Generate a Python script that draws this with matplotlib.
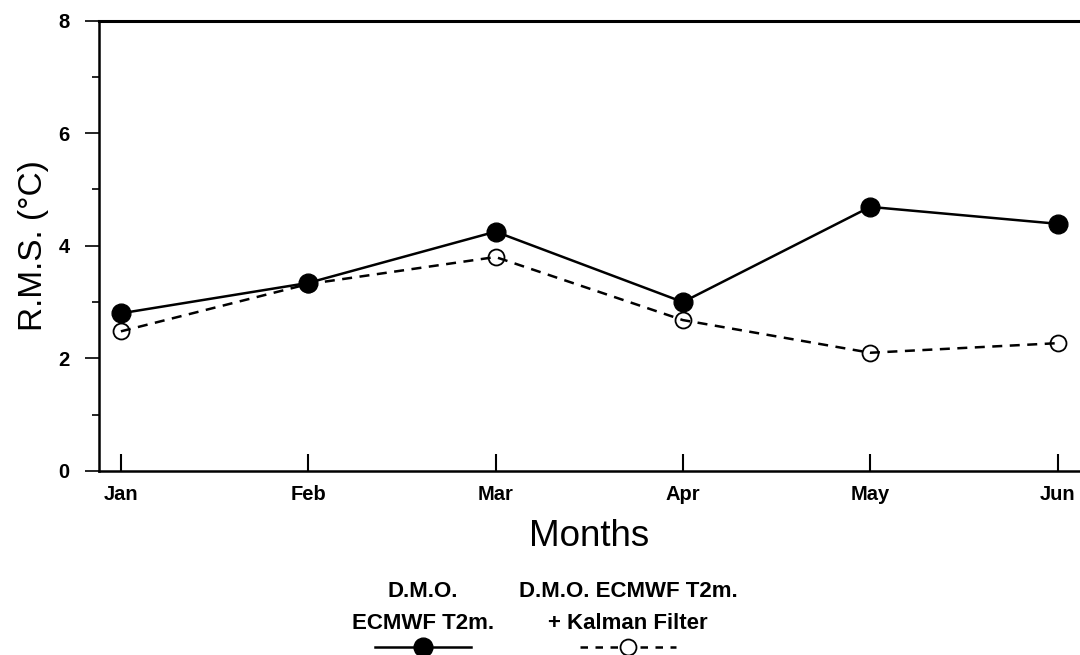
import matplotlib
matplotlib.use("Agg")
import matplotlib.pyplot as plt
from matplotlib.lines import Line2D
from matplotlib.ticker import MultipleLocator

# Monthly RMS error of 2 m temperature forecasts
months = ["Jan", "Feb", "Mar", "Apr", "May", "Jun"]
rms_dmo = [2.80, 3.34, 4.25, 3.00, 4.69, 4.39]
rms_kalman = [2.48, 3.32, 3.80, 2.68, 2.10, 2.27]

label_dmo = "D.M.O.\nECMWF T2m."
label_kalman = "D.M.O. ECMWF T2m.\n+ Kalman Filter"

plt.rcParams["font.family"] = ["Liberation Sans", "DejaVu Sans"]

W, H, DPI = 1080, 655, 100
fig = plt.figure(figsize=(W / DPI, H / DPI), dpi=DPI)
ax = fig.add_axes([99 / W, 184 / H, 1 - 99 / W, (471 - 20.5) / H])

x = list(range(len(months)))
solid_style = dict(color="black", lw=1.8, marker="o", markersize=13.5,
                   markerfacecolor="black", markeredgecolor="black")
dashed_style = dict(color="black", lw=1.8, ls=(0, (4, 3)), marker="o",
                    markersize=11.5, markerfacecolor="none",
                    markeredgecolor="black", markeredgewidth=1.3)

ax.plot(x, rms_kalman, zorder=2, **dashed_style)
ax.plot(x, rms_dmo, zorder=3, **solid_style)

ax.set_xlim(-0.117, 5.12)
ax.set_ylim(0, 8)
ax.set_xticks(x)
ax.set_xticklabels(months, fontsize=14.5, fontweight="bold")
ax.yaxis.set_major_locator(MultipleLocator(2))
ax.yaxis.set_minor_locator(MultipleLocator(1))
for lbl in ax.get_yticklabels():
    lbl.set_fontsize(14.5)
    lbl.set_fontweight("bold")

ax.tick_params(axis="x", direction="in", length=12, width=1.5, pad=10)
ax.tick_params(axis="y", which="major", direction="out", length=10, width=1.2, pad=11)
ax.tick_params(axis="y", which="minor", direction="out", length=5, width=1.2)

ax.spines["right"].set_visible(False)
ax.spines["top"].set_linewidth(2.2)
ax.spines["left"].set_linewidth(1.8)
ax.spines["bottom"].set_linewidth(1.8)

ax.set_ylabel("R.M.S. (°C)", fontsize=24)
ax.yaxis.set_label_coords(-65 / (W - 99), 0.5)
ax.set_xlabel("Months", fontsize=26.5)
ax.xaxis.set_label_coords(0.5, -(537 - 471) / (471 - 20.5))
ax.xaxis.label.set_va("center")
ax.yaxis.label.set_va("center")

# Legend: captions stacked above each line sample
legend_items = [
    (423, label_dmo, solid_style, (0, (4, 3))),
    (628, label_kalman, dashed_style, (0, (3, 3))),
]
for cx, text, style, legend_ls in legend_items:
    fig.text(cx / W, (655 - 607.5) / H, text, ha="center", va="center",
             fontsize=16, fontweight="bold", linespacing=1.63)
    line_kw = {k: v for k, v in style.items() if k not in ("marker", "ls")}
    if style.get("ls"):
        line_kw["ls"] = legend_ls
    sample = Line2D([(cx - 48) / W, (cx + 48) / W], [(655 - 647) / H] * 2,
                    transform=fig.transFigure, **line_kw)
    fig.add_artist(sample)
    dot = Line2D([cx / W], [(655 - 647) / H], transform=fig.transFigure, lw=0,
                 marker="o", markersize=style["markersize"],
                 markerfacecolor=style["markerfacecolor"] if style["markerfacecolor"] != "none" else "white",
                 markeredgecolor="black",
                 markeredgewidth=style.get("markeredgewidth", 1.0))
    fig.add_artist(dot)

fig.savefig("out.png", dpi=DPI, facecolor="white")
